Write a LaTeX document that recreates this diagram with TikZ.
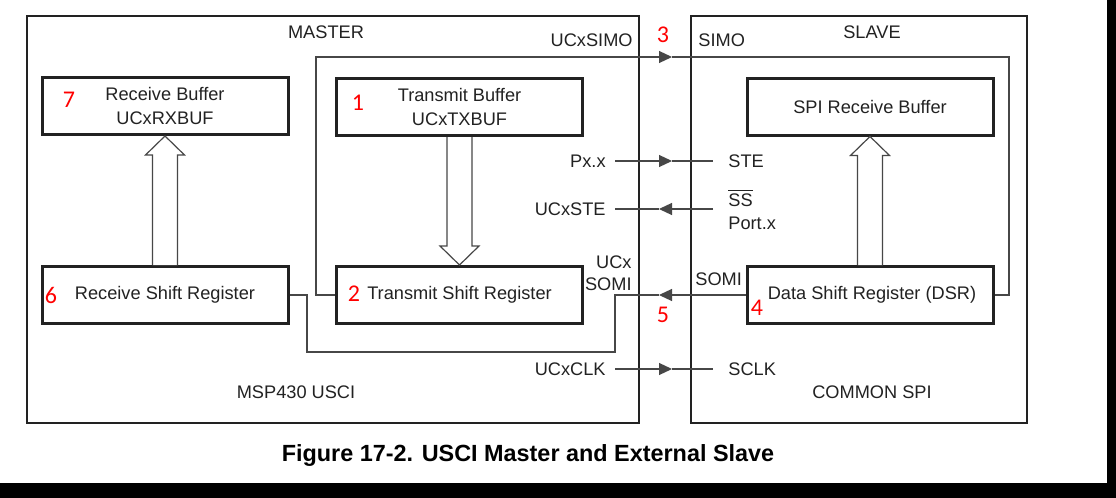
\documentclass[tikz,border=0pt]{standalone}
\usepackage{fontspec}
\setmainfont{Liberation Sans}
\newfontfamily\numfont{Carlito}
\usepackage{tikz}
\usetikzlibrary{arrows.meta, positioning, calc}
\definecolor{inkgray}{HTML}{222222}
\definecolor{wiregray}{HTML}{474747}
\definecolor{numred}{HTML}{FF0000}

% hollow block arrow from tail (#1) to tip (#2), vertical
\newcommand{\fatarrow}[2]{%
    \coordinate (fa-base) at ($(#2)!9.5pt!(#1)$);
    \draw[fat] ($(#1)+(-6.25pt,0)$) -- ($(fa-base)+(-6.25pt,0)$) -- ($(fa-base)+(-9.75pt,0)$)
        -- (#2) -- ($(fa-base)+(9.75pt,0)$) -- ($(fa-base)+(6.25pt,0)$) -- ($(#1)+(6.25pt,0)$);
}

\begin{document}
\begin{tikzpicture}[
    x=0.5pt, y=-0.5pt,
    unit/.style={
        draw=inkgray, line width=1pt,
        rectangle, inner sep=0pt,
        minimum height=203.5pt
    },
    reg/.style={
        draw=inkgray, line width=1.5pt,
        rectangle, inner sep=0pt,
        minimum width=123pt, minimum height=28.5pt,
        align=center, text=inkgray,
        font=\fontsize{9.1}{12}\selectfont
    },
    lbl/.style={
        inner sep=0pt, text=inkgray,
        font=\fontsize{9.1}{11}\selectfont
    },
    num/.style={
        inner sep=0pt, text=numred,
        font=\numfont\fontsize{12}{14}\selectfont
    },
    wire/.style={draw=wiregray, line width=0.6pt},
    arr/.style={wire, -{Triangle[length=6.5pt, width=6pt]}},
    fat/.style={draw=wiregray, line width=0.6pt, fill=white},
]
\useasboundingbox (0,0) rectangle (1116,498);
\fill[white] (0,0) rectangle (1116,498);

% the two units
\node[unit, minimum width=306pt] (master) at (333,219.5) {};
\node[unit, minimum width=168pt] (slave) at (859,219.5) {};
\node[lbl] (mastertitle) at (326,32) {MASTER};
\node[lbl] (slavetitle) at (872,32) {SLAVE};
\node[lbl] (usci) at (296,392) {MSP430 USCI};
\node[lbl] (common) at (872,392) {COMMON SPI};

% registers
\node[reg] (rxbuf) at (165,106) {Receive Buffer\\UCxRXBUF};
\node[reg] (txbuf) at (459.5,107) {Transmit Buffer\\UCxTXBUF};
\node[reg] (spibuf) at (870,106.5) {SPI Receive Buffer};
\node[reg] (rxshift) at (165,295) {Receive Shift Register};
\node[reg] (txshift) at (459.5,295) {Transmit Shift Register};
\node[reg] (dsr) at (870,295) {\hspace*{2pt}Data Shift Register (DSR)};

\fatarrow{txbuf.south}{txshift.north}
\fatarrow{rxshift.north}{rxbuf.south}
\fatarrow{dsr.north}{spibuf.south}

% pin labels
\node[lbl, anchor=east] (ucxsimo) at (633,40) {UCxSIMO};
\node[lbl, anchor=west] (simo) at (698,40) {SIMO};
\node[lbl, anchor=east] (pxx) at (606,161) {Px.x};
\node[lbl, anchor=west] (ste) at (728,161) {STE};
\node[lbl, anchor=east] (ucxste) at (606,209) {UCxSTE};
\node[lbl, anchor=west] (ss) at (728,198) {$\overline{\hbox{SS}}$};
\node[lbl, anchor=west] (portx) at (728,223) {Port.x};
\node[lbl, anchor=east, align=right] (ucxsomi) at (632,273) {UCx\\SOMI};
\node[lbl, anchor=west] (somi) at (695,279) {SOMI};
\node[lbl, anchor=east] (ucxclk) at (606,369) {UCxCLK};
\node[lbl, anchor=west] (sclk) at (728,369) {SCLK};

% step numbers
\node[num] (n1) at (358,103) {1};
\node[num] (n2) at (354,294) {2};
\node[num] (n3) at (663,35) {3};
\node[num] (n4) at (757,308) {4};
\node[num] (n5) at (663,315) {5};
\node[num] (n6) at (51,295) {6};
\node[num] (n7) at (69,100) {7};

% arrow heads on the lines
\coordinate (simoarr) at (672,57);
\coordinate (stearr) at (672,161);
\coordinate (ssarr) at (659,209);
\coordinate (somiarr) at (659,295);
\coordinate (clkarr) at (672,369);

\draw[arr] (txshift.west) -- ++(-9.5pt,0) |- (simoarr);
\draw[wire] (simoarr) -- (1009,57) |- (dsr.east);
\draw[arr] (dsr.west) -- (somiarr);
\draw[wire] (somiarr) -- (615,295) -- (615,352) -- (307,352) |- (rxshift.east);
\draw[arr] ([xshift=4.5pt]pxx.east) -- (stearr);
\draw[wire] (stearr) -- ([xshift=-7.5pt]ste.west);
\draw[arr] ($(ss.west |- ucxste.east)+(-7.5pt,0)$) -- (ssarr);
\draw[wire] (ssarr) -- ([xshift=4.5pt]ucxste.east);
\draw[arr] ([xshift=4.5pt]ucxclk.east) -- (clkarr);
\draw[wire] (clkarr) -- ([xshift=-7.5pt]sclk.west);

\node[font=\bfseries\fontsize{11.7}{14}\selectfont, text=black] (caption) at (528,455) {Figure 17-2. USCI Master and External Slave};

% screenshot edge
\fill[black] (1107,0) rectangle (1116,498);
\fill[black] (0,483) rectangle (1116,498);
\end{tikzpicture}
\end{document}
